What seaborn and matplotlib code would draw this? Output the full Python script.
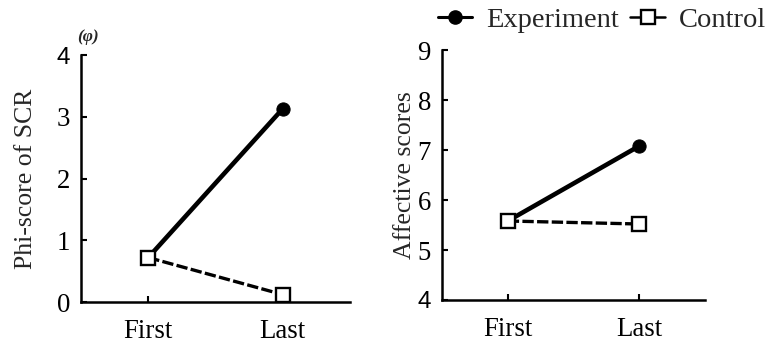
import matplotlib
matplotlib.use("Agg")
import matplotlib.pyplot as plt
import seaborn as sns
import pandas as pd
from matplotlib.lines import Line2D

sessions = ["First", "Last"]
scr_experiment = [0.72, 3.13]
scr_control = [0.72, 0.12]
aff_experiment = [5.58, 7.08]
aff_control = [5.58, 5.52]
groups = ["Experiment", "Control"]

sns.set_style("ticks")
plt.rcParams["font.family"] = ["Liberation Serif", "DejaVu Serif"]
plt.rcParams["font.size"] = 18.5

fig = plt.figure(figsize=(7.67, 3.45), dpi=100)
ax1 = fig.add_axes([81/767, 43/345, 269/767, 247/345])
ax2 = fig.add_axes([442/767, 45/345, 263/767, 250/345])

styles = {
    "Experiment": dict(linestyle="-", lw=3.3, marker="o", markersize=9.5,
                       markerfacecolor="black", markeredgecolor="black", zorder=3),
    "Control": dict(linestyle=(0, (3.4, 1.0)), lw=2.4, marker="s", markersize=9.5,
                    markerfacecolor="white", markeredgecolor="black",
                    markeredgewidth=1.7, zorder=4),
}

def draw(ax, exp, ctl, ylim, yticks, ylabel, labelpad):
    df = pd.DataFrame({
        "session": sessions * 2,
        "value": exp + ctl,
        "group": [groups[0]] * 2 + [groups[1]] * 2,
    })
    for g in groups:
        sub = df[df["group"] == g]
        sns.lineplot(data=sub, x="session", y="value", ax=ax, color="black",
                     legend=False, **styles[g])
    ax.set_xlim(-0.5, 1.5)
    ax.set_ylim(*ylim)
    ax.set_yticks(yticks)
    ax.set_xlabel("")
    ax.set_ylabel(ylabel, fontsize=18.5, labelpad=labelpad)
    sns.despine(ax=ax)
    for s in ("left", "bottom"):
        ax.spines[s].set_linewidth(1.8)
        ax.spines[s].set_color("black")
    ax.tick_params(axis="both", direction="in", length=4, width=1.5,
                   labelsize=19.3, colors="black")
    ax.tick_params(axis="y", pad=8)
    ax.tick_params(axis="x", pad=12)
    for lab in ax.get_yticklabels():
        if lab.get_text() == "4":
            lab.set_fontfamily(["Liberation Sans", "DejaVu Sans"])
            lab.set_fontsize(17.5)

draw(ax1, scr_experiment, scr_control, (0, 4), [0, 1, 2, 3, 4], "Phi-score of SCR", 14)
draw(ax2, aff_experiment, aff_control, (4, 9), [4, 5, 6, 7, 8, 9], "Affective scores", 1)

fig.text(88/767, 1 - 37/345, "(φ)", fontsize=12.5, fontweight="bold",
         fontstyle="italic", ha="center", va="center")

handles = [Line2D([], [], color="black", **{k: v for k, v in styles[g].items() if k != "zorder"})
           for g in groups]
handles[0].set_linewidth(2.2)
handles[1].set_linewidth(1.8)
handles[1].set_linestyle("-")
fig.legend(handles, groups, loc="center right", bbox_to_anchor=(766/767, 1 - 20/345),
           ncol=2, frameon=False, fontsize=20.5, handlelength=1.2,
           handletextpad=0.5, columnspacing=0.4, borderpad=0, borderaxespad=0)

fig.savefig("out.png", dpi=100)
